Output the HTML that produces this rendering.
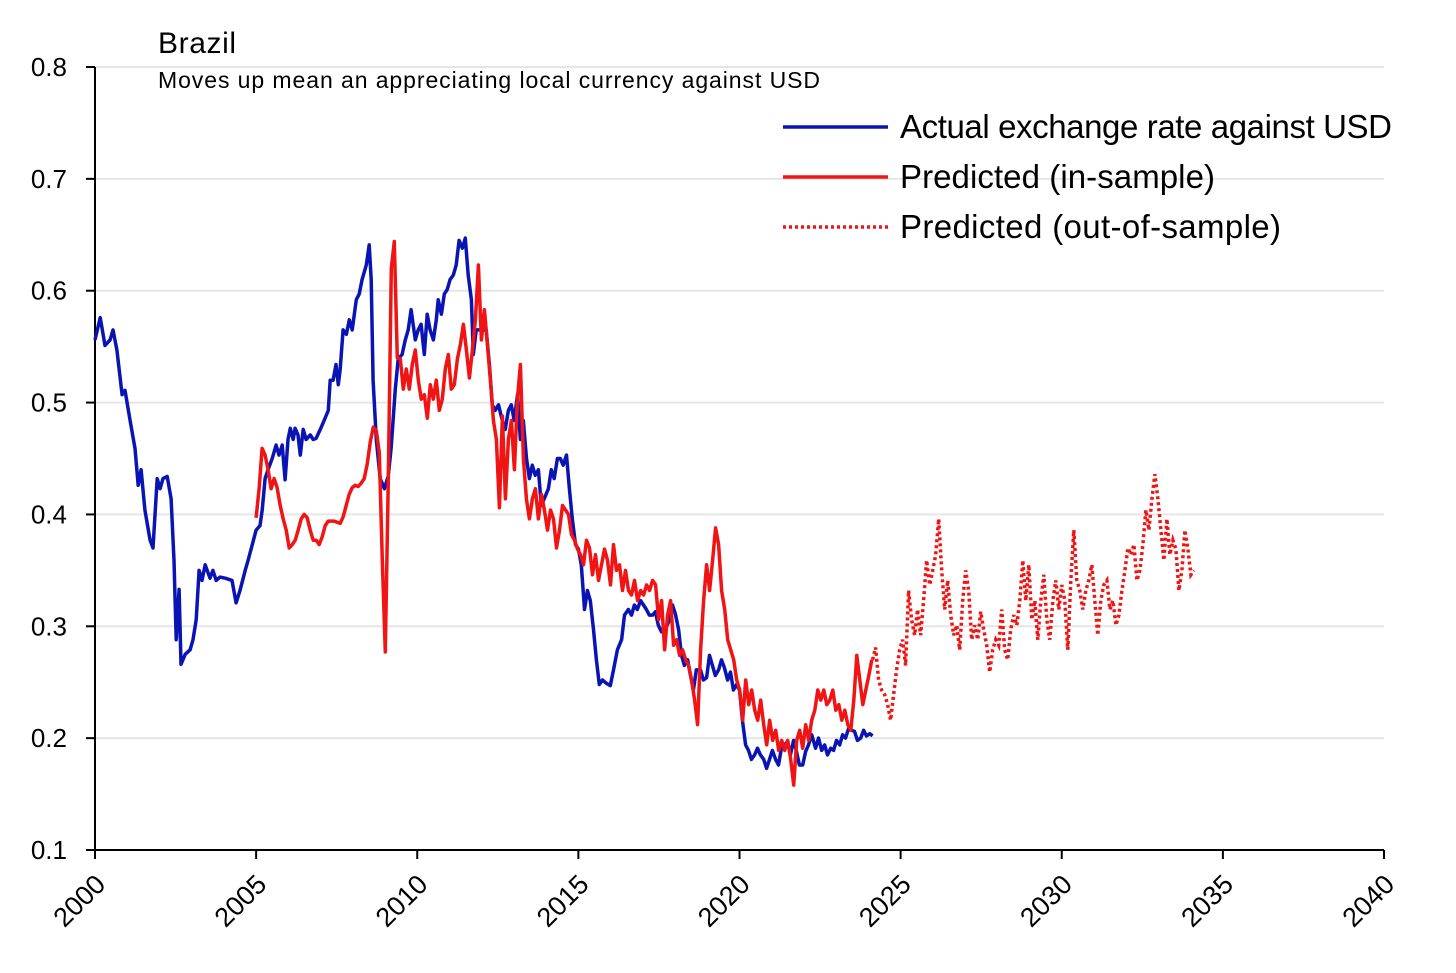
<!DOCTYPE html>
<html><head><meta charset="utf-8"><style>
html,body{margin:0;padding:0;background:#fff;}
svg{display:block;font-family:"Liberation Sans",sans-serif;}
</style></head><body>
<svg id="chart" width="1456" height="973" viewBox="0 0 1456 973" xmlns="http://www.w3.org/2000/svg">
<rect width="1456" height="973" fill="#fff"/>
<g id="grid"></g><g id="axes"></g><g id="series"></g>
<text x="158" y="53" font-size="30" fill="#000" textLength="78">Brazil</text>
<text x="158" y="88" font-size="23" fill="#000" textLength="662">Moves up mean an appreciating local currency against USD</text>
<g>
<line x1="783" y1="127" x2="888" y2="127" stroke="#0a14b4" stroke-width="3.5"/>
<text x="900" y="138" font-size="33" textLength="492">Actual exchange rate against USD</text>
<line x1="783" y1="177" x2="888" y2="177" stroke="#f01414" stroke-width="3.5"/>
<text x="900" y="188" font-size="33" textLength="315">Predicted (in-sample)</text>
<line x1="783" y1="227" x2="888" y2="227" stroke="#f01414" stroke-width="3.5" stroke-dasharray="3 3"/>
<text x="900" y="238" font-size="33" textLength="381">Predicted (out-of-sample)</text>
</g>
</svg>
<script>
const yTicks=[0.1,0.2,0.3,0.4,0.5,0.6,0.7,0.8];
const xTicks=[2000,2005,2010,2015,2020,2025,2030,2035,2040];
const actualYears=[2000.00,2000.16,2000.31,2000.47,2000.56,2000.68,2000.84,2000.93,2001.09,2001.24,2001.34,2001.43,2001.55,2001.71,2001.80,2001.93,2002.02,2002.11,2002.24,2002.36,2002.45,2002.52,2002.61,2002.67,2002.80,2002.95,2003.04,2003.14,2003.23,2003.32,2003.42,2003.57,2003.66,2003.76,2003.88,2004.04,2004.25,2004.38,2004.50,2004.66,2004.75,2004.88,2005.00,2005.12,2005.19,2005.28,2005.37,2005.50,2005.62,2005.71,2005.81,2005.90,2005.99,2006.06,2006.15,2006.21,2006.30,2006.37,2006.46,2006.55,2006.68,2006.77,2006.86,2006.99,2007.11,2007.24,2007.30,2007.39,2007.48,2007.55,2007.61,2007.70,2007.80,2007.89,2007.98,2008.11,2008.20,2008.29,2008.42,2008.51,2008.57,2008.63,2008.73,2008.85,2008.98,2009.10,2009.19,2009.32,2009.41,2009.53,2009.63,2009.72,2009.81,2009.94,2010.03,2010.12,2010.22,2010.31,2010.40,2010.50,2010.59,2010.65,2010.75,2010.84,2010.93,2011.02,2011.12,2011.21,2011.30,2011.40,2011.49,2011.58,2011.68,2011.74,2011.83,2011.96,2012.05,2012.14,2012.24,2012.33,2012.42,2012.52,2012.64,2012.73,2012.83,2012.92,2013.01,2013.11,2013.20,2013.29,2013.39,2013.48,2013.57,2013.66,2013.76,2013.85,2013.94,2014.07,2014.16,2014.25,2014.35,2014.44,2014.53,2014.63,2014.72,2014.81,2014.91,2015.00,2015.09,2015.19,2015.28,2015.37,2015.47,2015.56,2015.65,2015.75,2015.87,2015.99,2016.09,2016.21,2016.34,2016.43,2016.55,2016.65,2016.74,2016.83,2016.93,2017.02,2017.11,2017.20,2017.30,2017.39,2017.48,2017.58,2017.70,2017.80,2017.92,2018.01,2018.11,2018.20,2018.29,2018.39,2018.48,2018.57,2018.66,2018.79,2018.88,2018.98,2019.07,2019.16,2019.25,2019.35,2019.44,2019.53,2019.63,2019.72,2019.81,2019.91,2020.00,2020.09,2020.19,2020.28,2020.37,2020.47,2020.56,2020.65,2020.75,2020.84,2020.93,2021.02,2021.12,2021.21,2021.30,2021.40,2021.49,2021.58,2021.68,2021.77,2021.86,2021.96,2022.05,2022.14,2022.24,2022.36,2022.45,2022.55,2022.64,2022.73,2022.83,2022.92,2023.01,2023.11,2023.20,2023.29,2023.39,2023.48,2023.57,2023.66,2023.76,2023.85,2023.94,2024.04,2024.13];
const actualValues=[0.556,0.576,0.551,0.556,0.565,0.547,0.507,0.511,0.484,0.459,0.426,0.440,0.404,0.377,0.370,0.432,0.423,0.432,0.434,0.414,0.359,0.288,0.333,0.266,0.275,0.279,0.288,0.306,0.350,0.341,0.355,0.343,0.350,0.341,0.344,0.343,0.341,0.321,0.332,0.350,0.359,0.373,0.386,0.390,0.404,0.432,0.440,0.450,0.462,0.453,0.462,0.431,0.467,0.477,0.467,0.477,0.471,0.453,0.476,0.467,0.471,0.467,0.468,0.476,0.484,0.493,0.520,0.520,0.534,0.516,0.530,0.565,0.561,0.574,0.565,0.592,0.597,0.610,0.623,0.641,0.610,0.520,0.467,0.432,0.423,0.434,0.459,0.512,0.539,0.543,0.556,0.565,0.583,0.556,0.565,0.570,0.543,0.579,0.565,0.556,0.574,0.592,0.579,0.597,0.601,0.610,0.614,0.623,0.645,0.638,0.647,0.614,0.592,0.543,0.565,0.565,0.565,0.565,0.534,0.498,0.493,0.498,0.484,0.476,0.493,0.498,0.484,0.507,0.467,0.484,0.450,0.432,0.444,0.435,0.440,0.408,0.414,0.423,0.440,0.432,0.450,0.450,0.444,0.453,0.423,0.396,0.373,0.369,0.355,0.315,0.332,0.323,0.297,0.270,0.248,0.252,0.249,0.247,0.261,0.279,0.288,0.310,0.315,0.310,0.319,0.315,0.323,0.319,0.315,0.310,0.310,0.313,0.301,0.295,0.297,0.304,0.319,0.311,0.297,0.274,0.265,0.270,0.256,0.243,0.261,0.261,0.252,0.254,0.274,0.265,0.256,0.261,0.270,0.263,0.252,0.259,0.243,0.248,0.243,0.216,0.194,0.189,0.181,0.185,0.191,0.185,0.181,0.173,0.181,0.189,0.181,0.176,0.191,0.194,0.197,0.185,0.198,0.188,0.176,0.176,0.188,0.194,0.203,0.191,0.200,0.189,0.194,0.185,0.191,0.189,0.198,0.194,0.203,0.200,0.209,0.207,0.206,0.198,0.200,0.207,0.202,0.204,0.202];
const inSampleStart=2005.0;
const inSampleStep=0.0932;
const inSampleValues=[0.397,0.423,0.459,0.453,0.440,0.423,0.432,0.424,0.408,0.396,0.386,0.370,0.373,0.377,0.386,0.396,0.400,0.397,0.386,0.377,0.377,0.373,0.380,0.390,0.394,0.394,0.394,0.393,0.392,0.398,0.408,0.418,0.424,0.426,0.425,0.428,0.432,0.445,0.465,0.478,0.475,0.455,0.359,0.277,0.432,0.620,0.644,0.540,0.539,
0.512,0.530,0.512,0.534,0.547,0.520,0.503,0.507,0.486,0.516,0.503,0.520,0.493,0.503,0.530,0.543,0.512,0.516,0.539,0.552,0.570,0.547,0.522,0.547,0.574,0.623,0.556,0.583,0.552,0.520,0.484,0.467,0.406,0.488,0.414,0.467,0.484,0.440,0.503,0.534,0.450,0.414,0.396,0.414,0.423,0.396,0.418,0.404,0.386,0.404,0.396,0.370,0.386,0.408,0.404,0.400,0.382,0.377,0.369,0.364,0.355,0.377,0.370,0.346,0.364,0.341,0.355,0.369,0.359,0.337,0.373,0.350,0.355,0.332,0.350,0.332,0.328,0.341,0.323,0.332,0.328,0.337,0.332,0.341,0.337,0.306,0.323,0.279,0.310,0.323,0.283,0.288,0.274,0.279,0.270,0.265,0.252,0.234,0.212,0.279,0.323,0.355,0.332,0.359,0.388,0.373,0.332,0.315,0.288,0.279,0.270,0.252,0.243,0.216,0.252,0.230,0.243,0.225,0.216,0.234,0.212,0.194,0.216,0.198,0.207,0.189,0.198,0.189,0.198,0.181,0.158,0.198,0.207,0.191,0.212,0.198,0.216,0.225,0.243,0.234,0.243,0.230,0.234,0.243,0.225,0.230,0.216,0.225,0.212,0.207,0.234,0.274,0.252,0.230,0.243,0.256,0.270];
const outSampleStart=2024.13;
const outSampleStep=0.0932;
const outSampleValues=[0.270,0.281,0.252,0.243,0.239,0.230,0.216,0.239,0.261,0.279,0.288,0.265,0.332,0.306,0.292,0.315,0.292,0.323,0.359,0.337,0.350,0.364,0.396,0.350,0.315,0.341,0.310,0.292,0.301,0.279,0.323,0.350,0.332,0.288,0.301,0.288,0.313,0.297,0.283,0.259,0.279,0.288,0.283,0.315,0.279,0.270,0.297,0.310,0.301,0.323,0.359,0.323,0.355,0.306,0.323,0.288,0.323,0.346,0.306,0.288,0.323,0.341,0.315,0.337,0.323,0.279,0.341,0.386,0.341,0.332,0.315,0.332,0.341,0.355,0.323,0.292,0.323,0.337,0.341,0.315,0.323,0.301,0.310,0.332,0.350,0.370,0.364,0.373,0.341,0.350,0.373,0.404,0.386,0.414,0.436,0.414,0.386,0.359,0.396,0.364,0.377,0.369,0.332,0.350,0.386,0.369,0.346,0.350];

const NS='http://www.w3.org/2000/svg';
const X0=95,X1=1384,Y0=850,Y1=67;
function xScale(yr){return X0+(yr-2000)/40*(X1-X0);}
function yScale(v){return Y0-(v-0.1)/0.7*(Y0-Y1);}
function mk(tag,attrs,parent){const e=document.createElementNS(NS,tag);for(const k in attrs)e.setAttribute(k,attrs[k]);parent.appendChild(e);return e;}
const grid=document.getElementById('grid'),axes=document.getElementById('axes'),series=document.getElementById('series');
yTicks.forEach(t=>{
  const y=yScale(t);
  if(t>0.1){const g=mk('line',{x1:X0,x2:X1,y1:y,y2:y,stroke:'#e6e6e6','stroke-width':2},grid);
  
  }
  const tk=mk('line',{x1:X0-9,x2:X0,y1:y,y2:y,stroke:'#000','stroke-width':2},axes);
  
  
  const tx=mk('text',{x:67,y:y+9,'font-size':26,'text-anchor':'end'},axes);
  tx.textContent=t.toFixed(1);
  
  
});
xTicks.forEach(t=>{
  const x=xScale(t);
  const tk=mk('line',{x1:x,x2:x,y1:Y0,y2:Y0+9,stroke:'#000','stroke-width':2},axes);
  
  
  const tx=mk('text',{x:0,y:0,'font-size':27,'text-anchor':'end',transform:`translate(${x+12},${Y0+36}) rotate(-45)`},axes);
  tx.textContent=String(t);
  
  
});
const ya=mk('line',{x1:X0,x2:X0,y1:Y1,y2:Y0,stroke:'#000','stroke-width':2},axes);


const xa=mk('line',{x1:X0,x2:X1,y1:Y0,y2:Y0,stroke:'#000','stroke-width':2},axes);



function pathFrom(xs,vs){return xs.map((yr,i)=>(i?'L':'M')+xScale(yr).toFixed(1)+','+yScale(vs[i]).toFixed(1)).join(' ');}
const inYears=inSampleValues.map((v,i)=>inSampleStart+i*inSampleStep);
const outYears=outSampleValues.map((v,i)=>outSampleStart+i*outSampleStep);
const pAct=mk('path',{d:pathFrom(actualYears,actualValues),fill:'none',stroke:'#0a14b4','stroke-width':3.5,'stroke-linejoin':'round'},series);


const pIn=mk('path',{d:pathFrom(inYears,inSampleValues),fill:'none',stroke:'#f01414','stroke-width':3.5,'stroke-linejoin':'round'},series);


const pOut=mk('path',{d:pathFrom(outYears,outSampleValues),fill:'none',stroke:'#f01414','stroke-width':3.5,'stroke-dasharray':'3 3'},series);


</script>
</body></html>
